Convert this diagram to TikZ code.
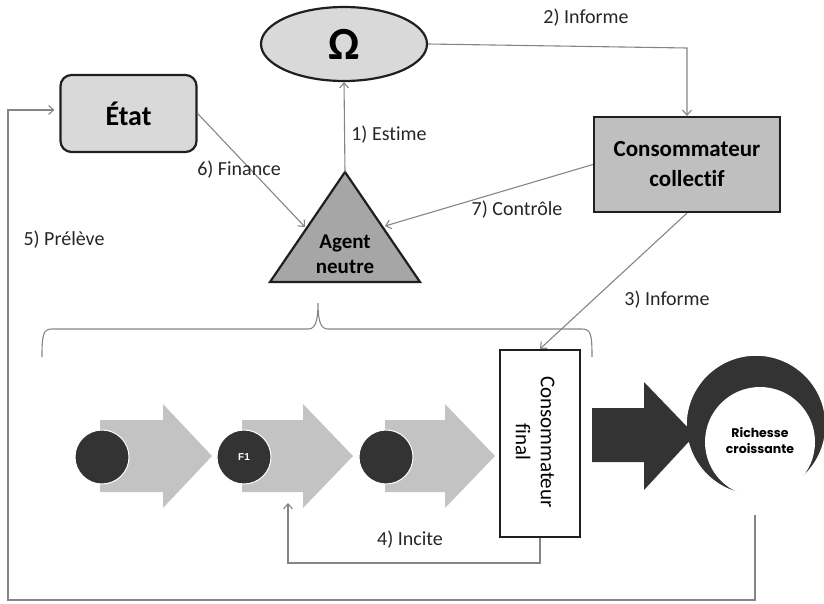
\documentclass[tikz,border=0pt]{standalone}
\usepackage{fontspec}
\setmainfont[Ligatures=NoCommon]{Carlito}
\newfontfamily\popfont{Poppins}
\newfontfamily\arialfont{Liberation Sans}
\usetikzlibrary{shapes.geometric,arrows.meta,calc}
\definecolor{lgray}{HTML}{D9D9D9}
\definecolor{mgray}{HTML}{BFBFBF}
\definecolor{dgray}{HTML}{A6A6A6}
\definecolor{chev}{HTML}{C3C3C3}
\definecolor{darkc}{HTML}{333333}
\definecolor{linec}{HTML}{858585}
\definecolor{borderc}{HTML}{1F1F1F}
\begin{document}
\begin{tikzpicture}[x=1pt,y=-1pt,
  conn/.style={draw=linec, line width=1.1pt, -{Straight Barb[length=5pt,width=9pt]}},
  plain/.style={draw=linec, line width=1.1pt},
  lab/.style={font=\fontsize{20}{24}\selectfont, text=black!85, inner sep=0pt},
  boxb/.style={draw=borderc, line width=2.2pt},
  chevron/.style={fill=chev, draw=none},
  dot/.style={circle, fill=darkc, draw=white, line width=1pt, minimum size=54pt, inner sep=0pt}
]
\useasboundingbox (0,0) rectangle (824,603);

% Omega
\node[ellipse, boxb, fill=lgray, minimum width=166pt, minimum height=74pt, inner sep=0pt,
      font=\fontsize{46}{46}\selectfont\bfseries] (om) at (344,44) {Ω};
% Etat
\node[boxb, fill=lgray, rounded corners=11pt, minimum width=136pt, minimum height=77pt,
      font=\fontsize{28}{30}\selectfont\bfseries] (etat) at (128.5,113.5) {État};
% Consommateur collectif
\node[boxb, fill=mgray, minimum width=186pt, minimum height=95pt, align=center,
      font=\fontsize{23}{30}\selectfont\bfseries] (cc) at (687,164.5) {Consommateur\\collectif};
% Agent neutre triangle
\coordinate (apex) at (345,172);
\coordinate (bl) at (270,282);
\coordinate (br) at (420,282);
\draw[boxb, fill=dgray, line join=miter] (apex) -- (br) -- (bl) -- cycle;
\node[align=center, font=\fontsize{21}{25}\selectfont\bfseries] (an) at (345,254) {Agent\\neutre};
\coordinate (tl) at (305,227);
\coordinate (tr) at (385,226);

% connectors top
\draw[conn] (apex) -- (om.south);
\node[lab] (l1) at (389,135) {1) Estime};
\draw[conn] (om.east) -- (cc.north |- 0,48) -- (cc.north);
\node[lab] (l2) at (586,18) {2) Informe};
\draw[conn] (etat.east) -- (tl);
\node[lab] (l6) at (239,170) {6) Finance};
\draw[conn] (cc.west) -- (tr);
\node[lab] (l7) at (517,210) {7) Contrôle};

% brace
\draw[plain] (42,357) .. controls (42,335) and (43,329) .. (52,329) -- (308,329)
  .. controls (315,329) and (318,322) .. (318,303)
  .. controls (318,322) and (321,329) .. (328,329) -- (582,329)
  .. controls (591,329) and (592,335) .. (592,357);

% chevrons
\draw[chevron] (100,420) -- (163,420) -- (163,404) -- (212,456) -- (163,508) -- (163,492) -- (100,492) -- cycle;
\draw[chevron] (242,420) -- (303,420) -- (303,404) -- (353,456) -- (303,508) -- (303,492) -- (242,492) -- cycle;
\draw[chevron] (385,420) -- (445,420) -- (445,404) -- (495,456) -- (445,508) -- (445,492) -- (385,492) -- cycle;
\node[dot] (d0) at (102,457) {};
\node[dot, text=white, font=\arialfont\fontsize{10}{10}\selectfont\bfseries] (d1) at (244,457) {F1};
\node[dot] (d2) at (386,457) {};

% Consommateur final
\node[boxb, fill=white, minimum width=80pt, minimum height=187pt] (cf) at (540,443.5) {};
\node[rotate=-90, align=center, font=\fontsize{21}{25}\selectfont] (cft) at (535,442) {Consommateur\\final};

\draw[conn] (cc.south) -- (cf.north);
\node[lab] (l3) at (667,300) {3) Informe};

% 4) Incite
\coordinate (c4) at (288,503);
\draw[conn] (cf.south) -- (540,563) -| (c4);
\node[lab] (l4) at (410,540) {4) Incite};

% Richesse
\node[circle, fill=darkc, draw=white, line width=1.5pt, minimum size=140pt, inner sep=0pt] (rc) at (756,425) {};
\node[circle, fill=white, minimum size=110pt, inner sep=0pt] (rci) at (760,442) {};
\node[align=center, font=\popfont\fontsize{12.5}{16}\selectfont\bfseries] (rct) at (760,441) {Richesse\\croissante};
\draw[fill=darkc, draw=none] (592,408) -- (644,408) -- (644,382) -- (695,435) -- (644,490) -- (644,462) -- (592,462) -- cycle;

% 5) Preleve
\coordinate (p5) at (755,515);
\draw[conn, shorten >=5pt] (p5) -- (755,600) -- (8,600) |- ([yshift=3.5pt]etat.west);
\node[lab] (l5) at (64,240) {5) Prélève};
\end{tikzpicture}
\end{document}
